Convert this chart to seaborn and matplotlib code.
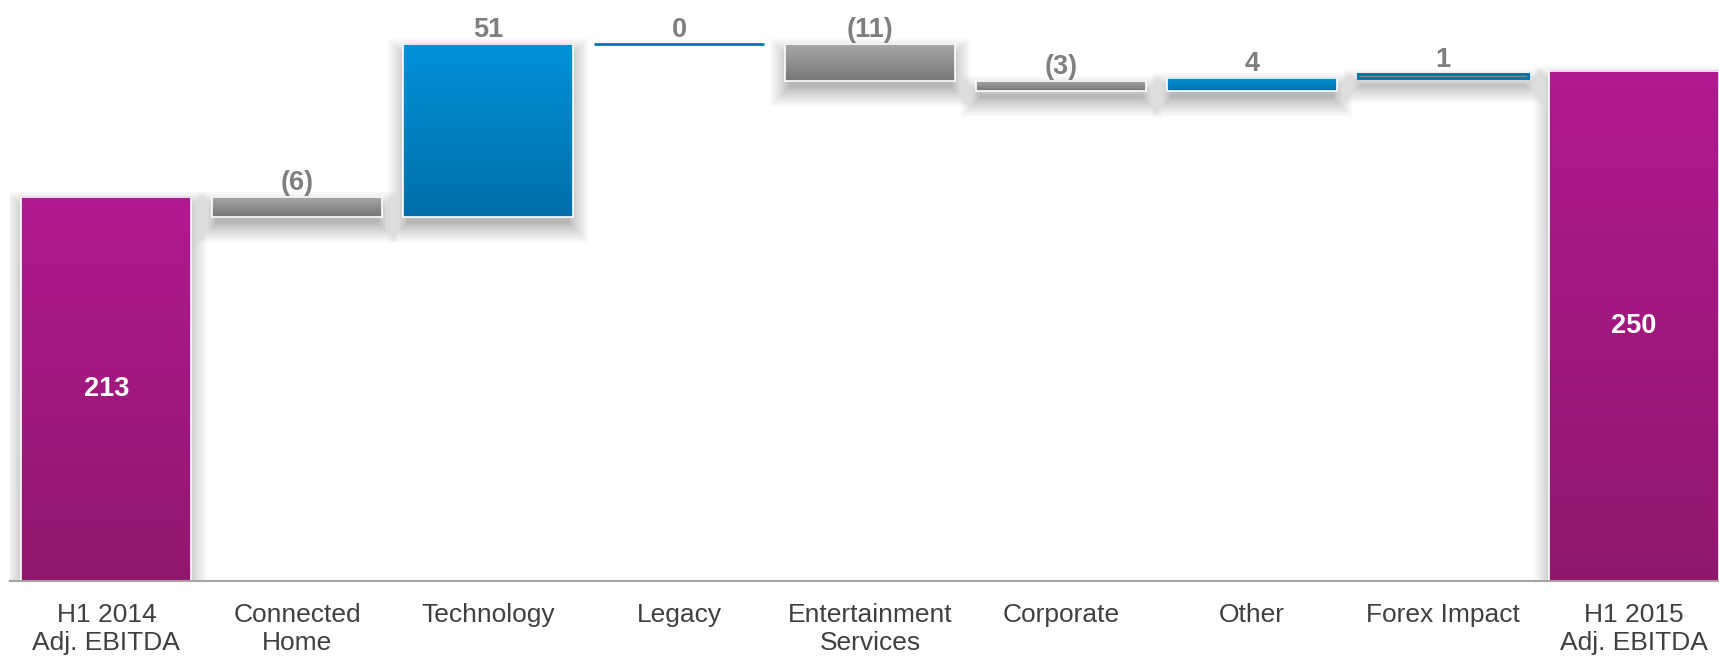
import numpy as np
import pandas as pd
import matplotlib
matplotlib.use("Agg")
import matplotlib.pyplot as plt
import seaborn as sns
from matplotlib.patches import Rectangle
from matplotlib.colors import LinearSegmentedColormap

# ---------------- data ----------------
categories = ["H1 2014\nAdj. EBITDA", "Connected\nHome", "Technology", "Legacy",
              "Entertainment\nServices", "Corporate", "Other", "Forex Impact",
              "H1 2015\nAdj. EBITDA"]
values = [213, -6, 51, 0, -11, -3, 4, 1, 250]
value_labels = ["213", "(6)", "51", "0", "(11)", "(3)", "4", "1", "250"]
is_total = [True, False, False, False, False, False, False, False, True]
axis_floor = 100  # broken value axis starts here

# ---------------- waterfall geometry from data ----------------
bottoms, tops = [], []
running = 0
for v, tot in zip(values, is_total):
    if tot:
        bottoms.append(axis_floor)
        tops.append(v)
        running = v
    else:
        b, t = sorted([running, running + v])
        bottoms.append(b)
        tops.append(t)
        running += v

df = pd.DataFrame({"category": categories, "top": tops, "bottom": bottoms,
                   "value": values, "label": value_labels, "total": is_total})

# ---------------- styling ----------------
sns.set_theme(style="white")
plt.rcParams["font.family"] = ["Liberation Sans", "DejaVu Sans"]

W, H, DPI = 1719, 659, 100
fig = plt.figure(figsize=(W / DPI, H / DPI), dpi=DPI)
ax_left, ax_bottom_px, ax_top_px = 10, 78, 659
ax = fig.add_axes([ax_left / W, ax_bottom_px / H, (W - ax_left) / W,
                   (ax_top_px - ax_bottom_px) / H])

bar_w = 0.89
px_per_unit_y = 3.4
x_lo, x_hi = -0.505, len(df) - 1 + bar_w / 2
px_per_unit_x = (W - ax_left) / (x_hi - x_lo)

sns.barplot(data=df, x="category", y="top", color="#999999", width=bar_w,
            ax=ax, zorder=1)

grad = {
    "total": ("#B11A90", "#91176E"),
    "pos": ("#0092DA", "#006FA9"),
    "neg": ("#A9A9A9", "#767676"),
}


def add_shadow(x0, w, b, t):
    """soft drop shadow drawn as stacked translucent rectangles"""
    off = 10 / px_per_unit_y
    n = 36
    for k in range(n):
        r = 20 * (1 - k / n) ** 1.3 - 4  # inflation in px
        rx = r / px_per_unit_x
        ry = r / px_per_unit_y
        ax.add_patch(Rectangle((x0 - rx, b - off - ry), w + 2 * rx,
                               max((t - b) + 2 * ry, 0.5), facecolor="black",
                               edgecolor="none", alpha=0.0065, zorder=0.5))


for i, p in enumerate(ax.patches[:len(df)]):
    b, t, v, tot = bottoms[i], tops[i], values[i], is_total[i]
    p.set_y(b)
    p.set_height(t - b)
    x0 = p.get_x()
    w = p.get_width()
    if tot:
        key = "total"
    elif v < 0:
        key = "neg"
    else:
        key = "pos"
    if v == 0 and not tot:
        p.set_facecolor("none")
        p.set_edgecolor("#0079B8")
        p.set_linewidth(2.0)
        continue
    if key == "pos" and abs(v) == 1:
        # forex: grey fill with blue outline
        p.set_facecolor("#8E8E8E")
        p.set_edgecolor("#0077B5")
        p.set_linewidth(2.2)
        p.set_zorder(2)
        add_shadow(x0, w, b, t)
        continue
    c_top, c_bot = grad[key]
    p.set_facecolor(c_bot)
    p.set_edgecolor("none")
    add_shadow(x0, w, b, t)
    cmap = LinearSegmentedColormap.from_list(key, [c_bot, c_top])
    g = np.linspace(0, 1, 256).reshape(-1, 1)
    ax.imshow(g, cmap=cmap, extent=(x0, x0 + w, b, t), origin="lower",
              aspect="auto", interpolation="bilinear", zorder=2)
    ax.add_patch(Rectangle((x0, b), w, t - b, facecolor="none",
                           edgecolor="white", linewidth=1.2, zorder=3))

# value labels
for i in range(len(df)):
    if is_total[i]:
        ax.text(i, (bottoms[i] + tops[i]) / 2, value_labels[i], ha="center",
                va="center", color="white", fontsize=19.5, fontweight="bold",
                zorder=5)
    else:
        ax.annotate(value_labels[i], (i, tops[i]), xytext=(0, 5),
                    textcoords="offset points", ha="center", va="baseline",
                    color="#7F7F7F", fontsize=19.5, fontweight="bold",
                    zorder=5, annotation_clip=False)

# axes
ax.set_xlim(x_lo, x_hi)
ax.set_ylim(axis_floor, axis_floor + (ax_top_px - ax_bottom_px) / px_per_unit_y)
ax.set_xlabel("")
ax.set_ylabel("")
ax.set_yticks([])
ax.set_xticks(range(len(df)))
ax.set_xticklabels(categories, fontsize=19, color="#404040", linespacing=1.22)
ax.tick_params(axis="x", which="major", length=0, pad=16)
ax.set_xticks(np.arange(-0.5, len(df) - 1, 1.0), minor=True)
ax.tick_params(axis="x", which="minor", length=6, direction="in",
               color="#A0A0A0", width=1.2)
for s in ["top", "right", "left"]:
    ax.spines[s].set_visible(False)
ax.spines["bottom"].set_color("#A0A0A0")
ax.spines["bottom"].set_linewidth(1.4)
ax.spines["bottom"].set_zorder(4)
ax.set_facecolor("white")
ax.grid(False)

fig.savefig("out.png", dpi=DPI, facecolor="white")
